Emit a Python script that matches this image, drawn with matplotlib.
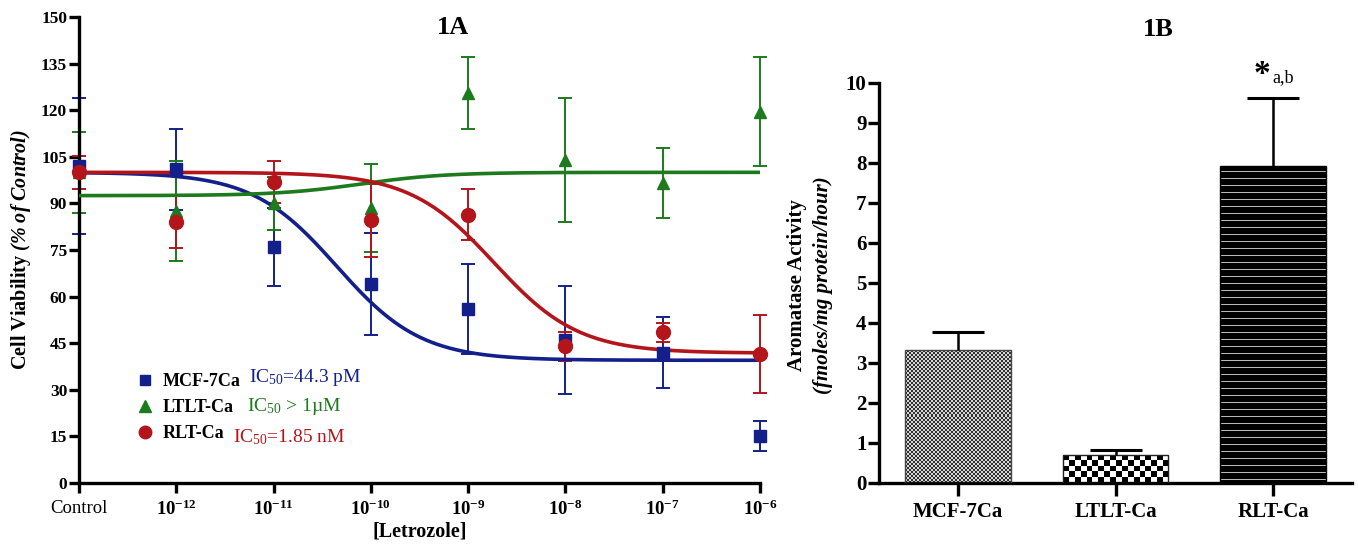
import numpy as np
import matplotlib
matplotlib.use("Agg")
import matplotlib.pyplot as plt
from matplotlib.lines import Line2D
from matplotlib.colors import ListedColormap

plt.rcParams["font.family"] = "Liberation Serif"
plt.rcParams["mathtext.fontset"] = "custom"
plt.rcParams["mathtext.rm"] = "Liberation Serif"
plt.rcParams["mathtext.it"] = "Liberation Serif:italic"
plt.rcParams["mathtext.bf"] = "Liberation Serif:bold"
plt.rcParams["mathtext.bfit"] = "Liberation Serif:bold:italic"

# ---- 1A: cell viability vs letrozole (log10 M, -13 stands for Control)
log_conc = [-13, -12, -11, -10, -9, -8, -7, -6]
conc_labels = ["Control", r"$\mathbf{10^{-12}}$", r"$\mathbf{10^{-11}}$",
               r"$\mathbf{10^{-10}}$", r"$\mathbf{10^{-9}}$", r"$\mathbf{10^{-8}}$",
               r"$\mathbf{10^{-7}}$", r"$\mathbf{10^{-6}}$"]

mcf_mean = [102, 101, 76, 64, 56, 46, 42, 15]
mcf_err = [22, 13, 12.5, 16.5, 14.5, 17.5, 11.5, 4.8]
ltlt_mean = [100, 87.6, 90, 88.5, 125.5, 104, 96.6, 119.5]
ltlt_err = [13, 16, 8.5, 14.3, 11.5, 20, 11.2, 17.5]
rlt_mean = [100, 84, 97, 84.5, 86.3, 44, 48.5, 41.5]
rlt_err = [5.3, 8.4, 6.8, 11.8, 8.2, 4.7, 3, 12.5]

# four-parameter logistic fits: top, bottom, logIC50, hill slope
mcf_fit = [100.0, 39.5, -10.35, -1.0]
ltlt_fit = [100.0, 92.5, -10.1, 1.0]
rlt_fit = [100.0, 41.8, -8.733, -1.0]

ic50_text = ["IC$_{50}$=44.3 pM", "IC$_{50}$ > 1\u00b5M", "IC$_{50}$=1.85 nM"]

# ---- 1B: aromatase activity
cell_lines = ["MCF-7Ca", "LTLT-Ca", "RLT-Ca"]
aromatase = [3.32, 0.70, 7.92]
aromatase_err = [0.46, 0.12, 1.70]

blue = "#13208c"
green = "#1d7a1d"
red = "#b3151b"

W, H = 1358, 546
fig = plt.figure(figsize=(W / 100, H / 100), dpi=100)


def logistic(x, top, bottom, logc, hill):
    return bottom + (top - bottom) / (1 + 10 ** ((logc - x) * hill))


def style_axes(ax):
    for s in ["top", "right"]:
        ax.spines[s].set_visible(False)
    for s in ["left", "bottom"]:
        ax.spines[s].set_linewidth(2.4)


# ================= 1A =================
ax1 = fig.add_axes([79 / W, 1 - 483 / H, (760 - 79) / W, (483 - 17) / H])
style_axes(ax1)

xs = np.linspace(-13, -6, 400)
series = [
    (mcf_mean, mcf_err, mcf_fit, blue, "s", 8.5, "MCF-7Ca"),
    (ltlt_mean, ltlt_err, ltlt_fit, green, "^", 9, "LTLT-Ca"),
    (rlt_mean, rlt_err, rlt_fit, red, "o", 10, "RLT-Ca"),
]
handles = []
for mean, err, fit, col, mk, ms, name in series:
    ax1.errorbar(log_conc, mean, yerr=err, fmt="none", ecolor=col,
                 elinewidth=1.4, capsize=5, capthick=1.4, clip_on=False, zorder=2)
    ax1.plot(xs, logistic(xs, *fit), color=col, lw=2.6, zorder=3,
             solid_capstyle="butt", clip_on=False)
    ax1.plot(log_conc, mean, mk, color=col, ms=ms, mec=col, zorder=4, clip_on=False)
    handles.append(Line2D([], [], marker=mk, ls="none", color=col, ms=ms - 1))

ax1.set_xlim(-13, -6)
ax1.set_ylim(0, 150)
ax1.set_yticks(np.arange(0, 151, 15))
ax1.set_yticklabels([str(v) for v in range(0, 151, 15)], fontweight="bold", fontsize=12.5)
ax1.set_xticks(log_conc)
ax1.set_xticklabels(conc_labels, fontsize=13.5)
ax1.tick_params(axis="y", width=2.4, length=7, pad=1.5)
ax1.tick_params(axis="x", width=2.4, length=7, pad=5)

ax1.set_xlabel("[Letrozole]", fontsize=14.5, fontweight="bold", labelpad=2)
ax1.set_ylabel(r"Cell Viability $\mathbfit{(\%\ of\ Control)}$", fontsize=14.5,
               fontweight="bold", labelpad=6)
fig.text(453 / W, 1 - 28 / H, "1A", fontsize=19, fontweight="bold",
         ha="center", va="center")

leg = ax1.legend(handles, cell_lines, loc="upper left",
                 bbox_to_anchor=(127 / W, 1 - 364 / H), bbox_transform=fig.transFigure,
                 frameon=False, prop={"weight": "bold", "size": 13},
                 handlelength=1.0, handletextpad=0.5, labelspacing=0.5, borderpad=0)

ic50_pos = [(-11.25, 33.8), (-11.27, 24.5), (-11.42, 14.8)]
for txt, (px, py), col in zip(ic50_text, ic50_pos, [blue, green, red]):
    ax1.text(px, py, txt, color=col, fontsize=14, ha="left", va="center")

# ================= 1B =================
ax2 = fig.add_axes([879 / W, 1 - 483 / H, (1352 - 879) / W, 400 / H])
style_axes(ax2)
ax2.set_xlim(-0.5, 2.5)
ax2.set_ylim(0, 10)
ax2.set_autoscale_on(False)

xpos = np.arange(len(cell_lines))
bars = ax2.bar(xpos, aromatase, width=0.67, facecolor="none",
               edgecolor=["#444444", "#222222", "black"], linewidth=1.0, zorder=3)


def texture(ax, bar, cell_px, kind, colors):
    x0, y0 = bar.get_x(), bar.get_y()
    w, h = bar.get_width(), bar.get_height()
    (p0x, p0y), (p1x, p1y) = ax.transData.transform([(x0, y0), (x0 + w, y0 + h)])
    nx = max(1, int(round((p1x - p0x) / cell_px)))
    ny = max(1, int(round((p1y - p0y) / cell_px)))
    if kind == "checker":
        arr = np.add.outer(np.arange(ny), np.arange(nx)) % 2
    else:
        arr = np.repeat((np.arange(ny) % 7 == 3)[:, None], nx, axis=1).astype(int)
    im = ax.imshow(arr, extent=(x0, x0 + w, y0, y0 + h), origin="lower",
                   cmap=ListedColormap(colors), interpolation="nearest",
                   aspect="auto", zorder=2)
    im.set_clip_path(bar)


texture(ax2, bars[0], 2, "checker", ["#303030", "#d6d6d6"])
texture(ax2, bars[1], 6, "checker", ["black", "white"])
texture(ax2, bars[2], 1, "stripes", ["black", "#b8b8b8"])
ax2.set_xlim(-0.5, 2.5)
ax2.set_ylim(0, 10)

eb = ax2.errorbar(xpos, aromatase, yerr=[np.zeros(3), aromatase_err], fmt="none",
                  ecolor="black", elinewidth=1.8, capsize=19, capthick=2.2, zorder=4)
eb[1][0].set_visible(False)

ax2.set_yticks(range(0, 11))
ax2.set_yticklabels([str(v) for v in range(0, 11)], fontweight="bold", fontsize=15)
ax2.set_xticks(xpos)
ax2.set_xticklabels(cell_lines, fontweight="bold", fontsize=15)
ax2.tick_params(axis="y", width=2.4, length=8, pad=1)
ax2.tick_params(axis="x", width=2.4, length=9, pad=5)

fig.text(797 / W, 1 - 285 / H, "Aromatase Activity", rotation=90, fontsize=15,
         fontweight="bold", ha="center", va="center")
fig.text(823 / W, 1 - 285 / H, "(fmoles/mg protein/hour)", rotation=90, fontsize=15,
         fontweight="bold", style="italic", ha="center", va="center")
fig.text(1158 / W, 1 - 30 / H, "1B", fontsize=19, fontweight="bold",
         ha="center", va="center")

top = aromatase[2] + aromatase_err[2]
ax2.annotate("*", xy=(2, top), xytext=(-8, 6), textcoords="offset points",
             fontsize=24, fontweight="bold", ha="center", va="bottom")
ax2.annotate("a,b", xy=(2, top), xytext=(7, 9), textcoords="offset points",
             fontsize=13, ha="center", va="bottom")

fig.savefig("out.png", dpi=100)
